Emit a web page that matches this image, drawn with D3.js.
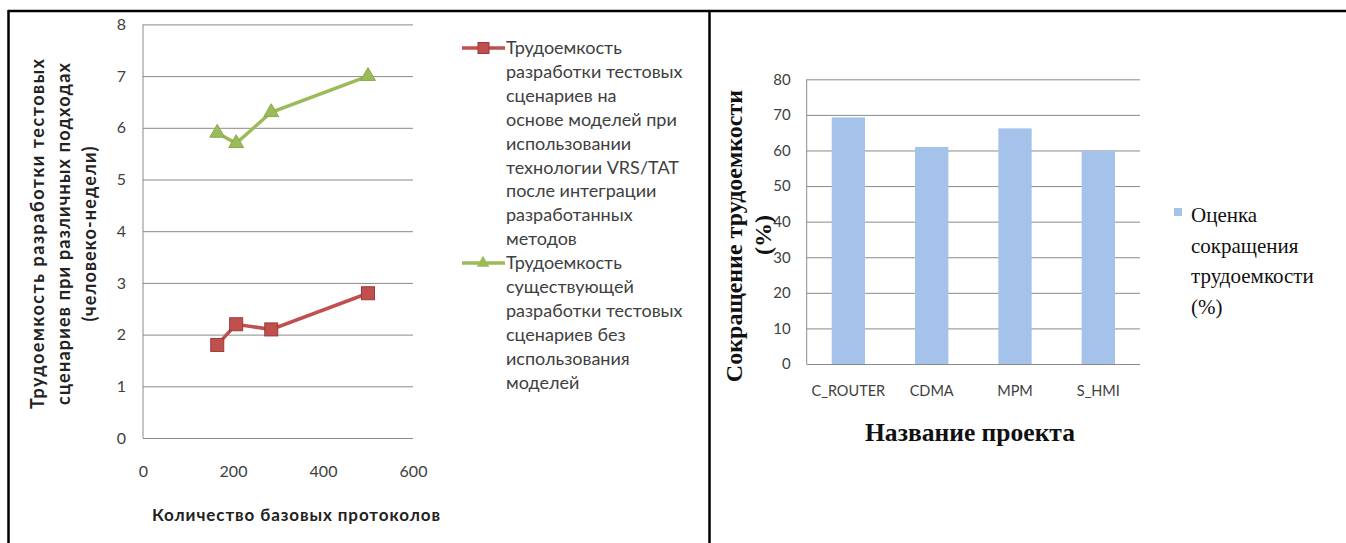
<!DOCTYPE html>
<html>
<head>
<meta charset="utf-8">
<script src="https://cdn.jsdelivr.net/npm/d3@7"></script>
<style>
body { margin: 0; background: #fff; }
svg { display: block; }
</style>
</head>
<body>
<svg id="chart" width="1346" height="543"></svg>
<script>
// Left chart: effort vs number of base protocols
const protocolCounts = [165, 207, 285, 500];
const effortWithModels = [1.8, 2.2, 2.1, 2.8];
const effortWithoutModels = [5.9, 5.7, 6.3, 7.0];
const lineXTicks = [0, 200, 400, 600];
const lineYTicks = [0, 1, 2, 3, 4, 5, 6, 7, 8];
const legendWithModels = ["Трудоемкость", "разработки тестовых", "сценариев на", "основе моделей при",
    "использовании", "технологии VRS/TAT", "после интеграции", "разработанных", "методов"];
const legendWithoutModels = ["Трудоемкость", "существующей", "разработки тестовых", "сценариев без",
    "использования", "моделей"];
const lineYTitle = ["Трудоемкость разработки тестовых", "сценариев при различных подходах", "(человеко-недели)"];
const lineXTitle = "Количество базовых протоколов";

// Right chart: labour reduction per project
const projects = ["C_ROUTER", "CDMA", "MPM", "S_HMI"];
const reductionPct = [69.3, 61.0, 66.2, 59.9];
const barYTicks = [0, 10, 20, 30, 40, 50, 60, 70, 80];
const barLegend = ["Оценка", "сокращения", "трудоемкости", "(%)"];
const barYTitle = ["Сокращение трудоемкости", "(%)"];
const barXTitle = "Название проекта";

const svg = d3.select("#chart");
const sans = "Lato, 'Open Sans', sans-serif";
const serif = "'Liberation Serif', 'Times New Roman', serif";
const gridColor = "#8a8a8a";
const labelColor = "#404040";

// frame
svg.append("line").attr("x1", 8).attr("x2", 1346).attr("y1", 11).attr("y2", 11)
    .attr("stroke", "#000").attr("stroke-width", 2.5);
svg.append("line").attr("x1", 8.5).attr("x2", 8.5).attr("y1", 10).attr("y2", 543)
    .attr("stroke", "#000").attr("stroke-width", 2.5);
svg.append("line").attr("x1", 709.5).attr("x2", 709.5).attr("y1", 10).attr("y2", 543)
    .attr("stroke", "#000").attr("stroke-width", 2.5);

// ---------- left line chart ----------
const x = d3.scaleLinear().domain([0, 600]).range([143, 413]);
const y = d3.scaleLinear().domain([0, 8]).range([438, 24.4]);

const left = svg.append("g");

left.append("g").attr("transform", `translate(${x(0)},0)`)
    .call(d3.axisLeft(y).tickValues(lineYTicks).tickSize(-(x(600) - x(0))).tickPadding(17).tickFormat(d3.format("d")))
    .call(g => g.select(".domain").remove())
    .call(g => g.selectAll(".tick line").attr("stroke", gridColor))
    .call(g => g.selectAll(".tick text").attr("fill", labelColor).attr("font-size", 16).attr("font-family", sans));

left.append("line").attr("x1", x(0)).attr("x2", x(0)).attr("y1", y(8)).attr("y2", y(0))
    .attr("stroke", gridColor);

left.append("g").attr("transform", `translate(0,${y(0)})`)
    .call(d3.axisBottom(x).tickValues(lineXTicks).tickSize(0).tickPadding(28))
    .call(g => g.select(".domain").remove())
    .call(g => g.selectAll(".tick text").attr("fill", labelColor).attr("font-size", 16).attr("font-family", sans));

const seriesRed = protocolCounts.map((c, i) => [c, effortWithModels[i]]);
const seriesGreen = protocolCounts.map((c, i) => [c, effortWithoutModels[i]]);
const lineGen = d3.line().x(d => x(d[0])).y(d => y(d[1]));

left.append("path").datum(seriesGreen).attr("d", lineGen)
    .attr("fill", "none").attr("stroke", "#9bbb59").attr("stroke-width", 3.5);
left.selectAll(".tri").data(seriesGreen).enter().append("path")
    .attr("transform", d => `translate(${x(d[0])},${y(d[1])})`)
    .attr("d", d3.symbol(d3.symbolTriangle, 95))
    .attr("fill", "#9bbb59").attr("stroke", "#8aa84c");

left.append("path").datum(seriesRed).attr("d", lineGen)
    .attr("fill", "none").attr("stroke", "#c0504d").attr("stroke-width", 3.5);
left.selectAll(".sq").data(seriesRed).enter().append("rect")
    .attr("x", d => x(d[0]) - 6.5).attr("y", d => y(d[1]) - 6.5)
    .attr("width", 13).attr("height", 13)
    .attr("fill", "#c0504d").attr("stroke", "#9c3a37");

// y title (rotated, three lines, stretched like the original)
const yTitleLengths = [350, 342, 175];
left.append("text")
    .attr("transform", "translate(44,234) rotate(-90)")
    .attr("text-anchor", "middle").attr("font-family", sans).attr("font-weight", "bold")
    .attr("font-size", 18).attr("fill", "#222")
    .selectAll("tspan").data(lineYTitle).enter().append("tspan")
    .attr("x", 0).attr("y", (d, i) => i * 26)
    .attr("textLength", (d, i) => yTitleLengths[i]).attr("lengthAdjust", "spacing")
    .text(d => d);

left.append("text").attr("x", 296).attr("y", 521).attr("text-anchor", "middle")
    .attr("font-family", sans).attr("font-weight", "bold").attr("font-size", 17).attr("fill", "#222")
    .attr("textLength", 288).attr("lengthAdjust", "spacing")
    .text(lineXTitle);

// legend
function legendBlock(lines, top, color, marker) {
    const g = left.append("g");
    g.append("line").attr("x1", 462).attr("x2", 505).attr("y1", top).attr("y2", top)
        .attr("stroke", color).attr("stroke-width", 3.5);
    if (marker === "square") {
        g.append("rect").attr("x", 478).attr("y", top - 5.5).attr("width", 11).attr("height", 11)
            .attr("fill", color).attr("stroke", "#9c3a37");
    } else {
        g.append("path").attr("transform", `translate(483,${top})`)
            .attr("d", d3.symbol(d3.symbolTriangle, 70)).attr("fill", color);
    }
    g.append("text").attr("font-family", sans).attr("font-size", 18).attr("fill", labelColor)
        .selectAll("tspan").data(lines).enter().append("tspan")
        .attr("x", 506).attr("y", (d, i) => top + 6 + i * 23.9).text(d => d);
}
legendBlock(legendWithModels, 48, "#c0504d", "square");
legendBlock(legendWithoutModels, 263, "#9bbb59", "triangle");

// ---------- right bar chart ----------
const xb = d3.scaleBand().domain(projects).range([806.7, 1140]).paddingInner(0.6).paddingOuter(0.3);
const yb = d3.scaleLinear().domain([0, 80]).range([364, 79.3]);

const right = svg.append("g");

right.append("g").attr("transform", "translate(806.7,0)")
    .call(d3.axisLeft(yb).tickValues(barYTicks).tickSize(-(1140 - 806.7)).tickPadding(16))
    .call(g => g.select(".domain").remove())
    .call(g => g.selectAll(".tick line").attr("stroke", gridColor))
    .call(g => g.selectAll(".tick text").attr("fill", labelColor).attr("font-size", 15).attr("font-family", sans));

right.append("line").attr("x1", 806.7).attr("x2", 806.7).attr("y1", yb(80)).attr("y2", yb(0))
    .attr("stroke", gridColor);

right.selectAll(".bar").data(projects).enter().append("rect")
    .attr("x", d => xb(d)).attr("width", xb.bandwidth())
    .attr("y", (d, i) => yb(reductionPct[i]))
    .attr("height", (d, i) => yb(0) - yb(reductionPct[i]))
    .attr("fill", "#a5c3ea");

right.append("g").attr("transform", `translate(0,${yb(0)})`)
    .call(d3.axisBottom(xb).tickSize(0).tickPadding(22))
    .call(g => g.select(".domain").remove())
    .call(g => g.selectAll(".tick text").attr("fill", labelColor).attr("font-size", 14.5).attr("font-family", sans));

right.append("text")
    .attr("transform", "translate(742,236) rotate(-90)")
    .attr("text-anchor", "middle").attr("font-family", serif).attr("font-weight", "bold")
    .attr("font-size", 24).attr("fill", "#111")
    .selectAll("tspan").data(barYTitle).enter().append("tspan")
    .attr("x", (d, i) => i === 0 ? 0 : 1).attr("y", (d, i) => i * 29).text(d => d);

right.append("text").attr("x", 970).attr("y", 441).attr("text-anchor", "middle")
    .attr("font-family", serif).attr("font-weight", "bold").attr("font-size", 25).attr("fill", "#111")
    .attr("textLength", 210).attr("lengthAdjust", "spacingAndGlyphs")
    .text(barXTitle);

right.append("rect").attr("x", 1174).attr("y", 208).attr("width", 8).attr("height", 8).attr("fill", "#a5c3ea");
right.append("text").attr("font-family", serif).attr("font-size", 21).attr("fill", "#111")
    .selectAll("tspan").data(barLegend).enter().append("tspan")
    .attr("x", 1191).attr("y", (d, i) => 222 + i * 30.5).text(d => d);
</script>
</body>
</html>
